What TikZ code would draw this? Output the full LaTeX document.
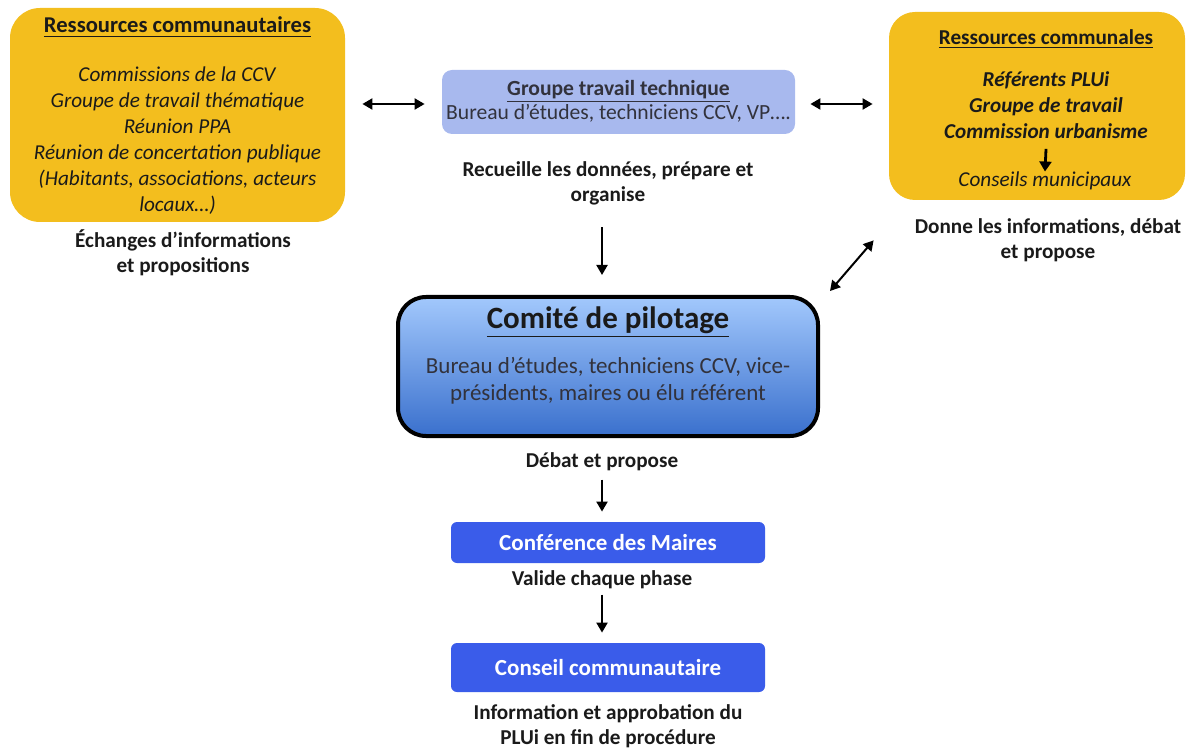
\documentclass[tikz,border=0pt]{standalone}
\usepackage{fontspec}
\setmainfont{Carlito}
\usetikzlibrary{arrows.meta}
\definecolor{yel}{RGB}{243,190,30}
\definecolor{lblue}{RGB}{168,185,238}
\definecolor{btn}{RGB}{58,92,234}
\definecolor{ctop}{RGB}{162,200,252}
\definecolor{cbot}{RGB}{58,112,205}
\definecolor{txt}{RGB}{26,26,26}
\definecolor{gtxt}{RGB}{50,50,60}
\begin{document}
\begin{tikzpicture}[x=0.5pt,y=-0.5pt,
  base/.style={font=\fontsize{10.6}{13}\selectfont, align=center, inner sep=0pt, text=txt},
  lbl/.style={base, font=\fontsize{10.6}{12.5}\selectfont\bfseries},
  ybox/.style={fill=yel, rounded corners=15pt},
  bluebtn/.style={fill=btn, rounded corners=3pt, text=white, font=\fontsize{11.5}{13}\selectfont\bfseries, inner sep=0pt},
  dbl/.style={{Triangle[length=5pt,width=5.5pt]}-{Triangle[length=5pt,width=5.5pt]}, line width=1pt},
  one/.style={-{Triangle[length=5pt,width=5.5pt]}, line width=1pt}
]
\useasboundingbox (0,0) rectangle (1192,748);

% left yellow box
\node[ybox, minimum width=167.5pt, minimum height=107pt] (lbox) at (177.5,115) {};
\node[base] (ltext) at (177.5,116) {{\fontsize{11.3}{13}\selectfont\textbf{\underline{Ressources communautaires}}}\\[11.5pt]
  \textit{Commissions de la CCV}\\ \textit{Groupe de travail thématique}\\ \textit{Réunion PPA}\\
  \textit{Réunion de concertation publique}\\ \textit{(Habitants, associations, acteurs}\\ \textit{locaux…)}};
\node[lbl] (lab1) at (183,253) {Échanges d’informations\\et propositions};

% top centre box
\node[fill=lblue, rounded corners=5pt, minimum width=176.5pt, minimum height=32pt] (gtt) at (618.5,102) {};
\node[base, text=gtxt, font=\fontsize{10.8}{12}\selectfont] (gtttext) at (618.5,101) {\textbf{\underline{Groupe travail technique}}\\ Bureau d’études, techniciens CCV, VP….};
\node[lbl] (lab2) at (608,183) {Recueille les données, prépare et\\organise};

% right yellow box
\node[ybox, rounded corners=13pt, minimum width=148pt, minimum height=94pt] (rbox) at (1037,106) {};
\node[base] (rtext) at (1046,84) {\textbf{\underline{Ressources communales}}\\[8pt]
  \textbf{\textit{Référents PLUi}}\\ \textbf{\textit{Groupe de travail}}\\ \textbf{\textit{Commission urbanisme}}};
\node[base] (cons) at (1045,181) {\textit{Conseils municipaux}};
\draw[line width=1.4pt, -{Triangle[length=5pt,width=6pt]}] ([yshift=-5pt]rtext.south) -- (cons.north);
\node[lbl] (lab3) at (1048,240) {Donne les informations, débat\\et propose};

% comite
\node[draw, line width=2pt, rounded corners=14pt, top color=ctop, bottom color=cbot,
      minimum width=210pt, minimum height=69.5pt] (com) at (608,366.5) {};
\node[base, font=\fontsize{15.5}{17}\selectfont\bfseries] (comt) at (608,322) {\underline{Comité de pilotage}};
\node[base, text=gtxt, font=\fontsize{11.5}{13.5}\selectfont] (comb) at (608,381) {Bureau d’études, techniciens CCV, vice-\\présidents, maires ou élu référent};
\node[lbl] (lab4) at (602,462) {Débat et propose};

% bottom boxes
\node[bluebtn, minimum width=157pt, minimum height=20.5pt] (conf) at (608,542.5) {Conférence des Maires};
\node[lbl] (lab5) at (602,580) {Valide chaque phase};
\node[bluebtn, minimum width=157pt, minimum height=24.5pt] (cc) at (608,667.5) {Conseil communautaire};
\node[lbl] (lab6) at (608,726) {Information et approbation du\\PLUi en fin de procédure};

% connectors
\draw[dbl] ([xshift=8.5pt,yshift=-1pt]gtt.west -| lbox.east) -- ([xshift=-8.5pt,yshift=-1pt]gtt.west);
\draw[dbl] ([xshift=7.5pt,yshift=-1pt]gtt.east) -- ([xshift=-8pt,yshift=-1pt]gtt.east -| rbox.west);
\draw[dbl] ([xshift=5pt,yshift=2pt]com.north east) -- ([xshift=-7.5pt,yshift=-20pt]rbox.south west);
\draw[one] ([yshift=-11pt]lab2.south -| lab4.south) -- ([yshift=10pt]com.north -| lab4.south);
\draw[one] ([yshift=-4pt]lab4.south) -- ([yshift=5pt]lab4.south |- conf.north);
\draw[one] ([yshift=-2.5pt]lab5.south) -- ([yshift=5pt]lab5.south |- cc.north);
\end{tikzpicture}
\end{document}
